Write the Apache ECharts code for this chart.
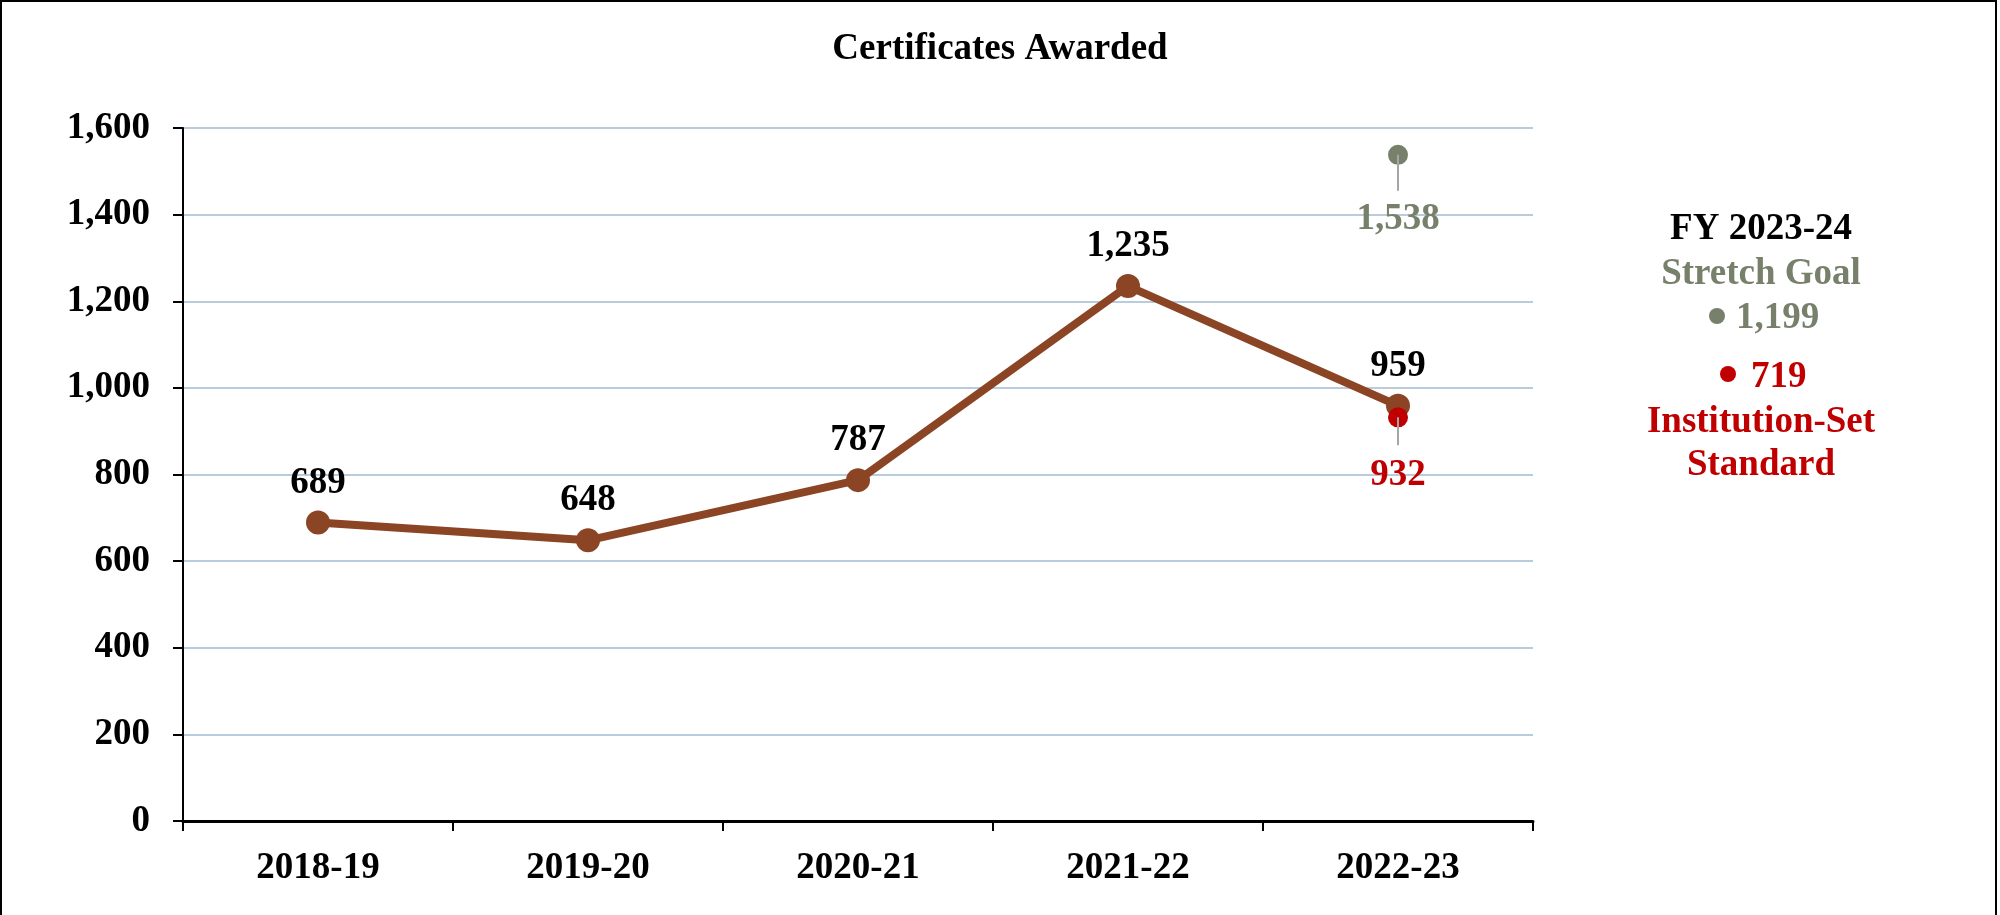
<!DOCTYPE html>
<html>
<head>
<meta charset="utf-8">
<script src="https://cdn.jsdelivr.net/npm/echarts@6/dist/echarts.min.js"></script>
<style>
html,body{margin:0;padding:0;background:#fff;}
#chart{width:2000px;height:915px;}
</style>
</head>
<body>
<div id="chart"></div>
<script>
// ---- data ----
const chartTitle = 'Certificates Awarded';
const categories = ['2018-19', '2019-20', '2020-21', '2021-22', '2022-23'];
const certificates = [689, 648, 787, 1235, 959];
const stretchGoalPoint = ['2022-23', 1538];
const standardPoint = ['2022-23', 932];
const yMin = 0, yMax = 1600, yInterval = 200;
const fyLabel = 'FY 2023-24';
const fyStretchLabel = 'Stretch Goal';
const fyStretchValue = 1199;
const fyStandardValue = 719;
const fyStandardLabel = ['Institution-Set', 'Standard'];

// ---- styles ----
const FONT = '"Liberation Serif", "Times New Roman", serif';
const BROWN = '#8B4424';
const GREEN = '#76806A';
const RED = '#C00000';
const fmt = v => Number(v).toLocaleString('en-US');

function goalRender(color, lineEnd, textOffset) {
  return function (params, api) {
    const p = api.coord([api.value(0), api.value(1)]);
    return {
      type: 'group',
      children: [
        { type: 'circle', shape: { cx: p[0], cy: p[1], r: 10 }, style: { fill: color }, z2: 0 },
        { type: 'line', shape: { x1: p[0], y1: p[1], x2: p[0], y2: p[1] + lineEnd },
          style: { stroke: '#A6A6A6', lineWidth: 2 }, z2: 1 },
        { type: 'text', style: { text: fmt(api.value(1)), x: p[0], y: p[1] + textOffset,
            fill: color, font: 'bold 37px ' + FONT, align: 'center', verticalAlign: 'middle' } }
      ]
    };
  };
}

const chart = echarts.init(document.getElementById('chart'), null, { renderer: 'canvas' });
const sideX = 1761;
const sideFont = 'bold 37px ' + FONT;
chart.setOption({
  animation: false,
  backgroundColor: '#fff',
  title: {
    text: chartTitle, left: 'center', top: 26,
    textStyle: { fontFamily: FONT, fontSize: 37, fontWeight: 'bold', color: '#000' }
  },
  grid: { left: 183, right: 467, top: 128, bottom: 94, containLabel: false },
  xAxis: {
    type: 'category', data: categories, boundaryGap: true,
    axisLine: { lineStyle: { color: '#000', width: 3 } },
    axisTick: { show: true, length: 10, lineStyle: { color: '#000', width: 2 } },
    axisLabel: { margin: 29, fontFamily: FONT, fontSize: 37, fontWeight: 'bold', color: '#000' }
  },
  yAxis: {
    type: 'value', min: yMin, max: yMax, interval: yInterval,
    axisLine: { show: true, lineStyle: { color: '#000', width: 2 } },
    axisTick: { show: true, length: 10, lineStyle: { color: '#000', width: 2 } },
    axisLabel: { margin: 33, padding: [5, 0, 0, 0], fontFamily: FONT, fontSize: 37, fontWeight: 'bold', color: '#000', formatter: v => fmt(v) },
    splitLine: { show: true, lineStyle: { color: '#B9CCDE', width: 2 } }
  },
  series: [
    {
      type: 'line', data: certificates, z: 2,
      lineStyle: { color: BROWN, width: 8 },
      itemStyle: { color: BROWN },
      symbol: 'circle', symbolSize: 24,
      label: { show: true, position: 'top', distance: 9, formatter: p => fmt(p.value),
        fontFamily: FONT, fontSize: 37, fontWeight: 'bold', color: '#000' }
    },
    {
      type: 'custom', z: 3, renderItem: goalRender(GREEN, 36, 65),
      data: [stretchGoalPoint], encode: { x: 0, y: 1 }
    },
    {
      type: 'custom', z: 4, renderItem: goalRender(RED, 28, 58),
      data: [standardPoint], encode: { x: 0, y: 1 }
    }
  ],
  graphic: [
    { type: 'rect', shape: { x: 1, y: 1, width: 1995, height: 940 },
      style: { fill: 'none', stroke: '#000', lineWidth: 2 }, silent: true },
    { type: 'text', style: { text: fyLabel, x: sideX, y: 229, fill: '#000', font: sideFont, align: 'center', verticalAlign: 'middle' } },
    { type: 'text', style: { text: fyStretchLabel, x: sideX, y: 274, fill: GREEN, font: sideFont, align: 'center', verticalAlign: 'middle' } },
    { type: 'circle', shape: { cx: 1717, cy: 316, r: 8 }, style: { fill: GREEN } },
    { type: 'text', style: { text: fmt(fyStretchValue), x: 1736, y: 318, fill: GREEN, font: sideFont, align: 'left', verticalAlign: 'middle' } },
    { type: 'circle', shape: { cx: 1728, cy: 374, r: 8 }, style: { fill: RED } },
    { type: 'text', style: { text: fmt(fyStandardValue), x: 1751, y: 377, fill: RED, font: sideFont, align: 'left', verticalAlign: 'middle' } },
    { type: 'text', style: { text: fyStandardLabel[0], x: sideX, y: 422, fill: RED, font: sideFont, align: 'center', verticalAlign: 'middle' } },
    { type: 'text', style: { text: fyStandardLabel[1], x: sideX, y: 465, fill: RED, font: sideFont, align: 'center', verticalAlign: 'middle' } }
  ]
});
</script>
</body>
</html>
